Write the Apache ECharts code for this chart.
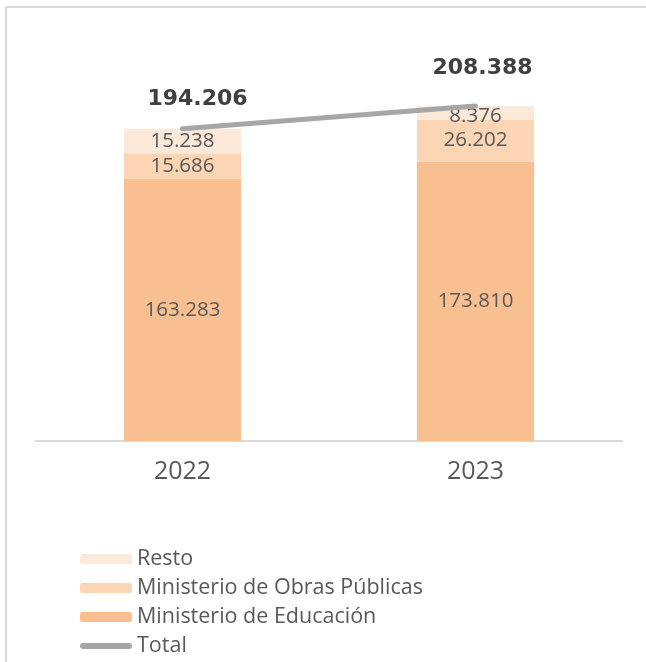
<!DOCTYPE html>
<html>
<head>
<meta charset="utf-8">
<script src="https://cdn.jsdelivr.net/npm/echarts@6/dist/echarts.min.js"></script>
<style>
  html, body { margin: 0; padding: 0; background: #fff; }
  #chart { width: 646px; height: 662px; }
</style>
</head>
<body>
<div id="chart"></div>
<script>
  // datos
  const years = ["2022", "2023"];
  const educacion = [163283, 173810];
  const obras = [15686, 26202];
  const resto = [15238, 8376];
  const total = [194206, 208388];

  const fmt = (v) => v.toLocaleString("de-DE");

  let myChart = echarts.init(document.getElementById("chart"));
  let barLabel = {
    show: true,
    position: "inside",
    color: "#595959",
    fontSize: 20.5,
    fontFamily: "Open Sans",
    formatter: (p) => fmt(p.value),
  };
  // posicion de etiquetas del total (por año)
  let totalLabelPos = [
    { distance: 18, offset: [15, 0] },
    { distance: 27, offset: [7, 0] },
  ];
  let option = {
    animation: false,
    backgroundColor: "#fff",
    graphic: [
      { type: "line", shape: { x1: 6, y1: 7, x2: 646, y2: 7 }, style: { stroke: "#d9d9d9", lineWidth: 2 } },
      { type: "line", shape: { x1: 6, y1: 7, x2: 6, y2: 662 }, style: { stroke: "#d9d9d9", lineWidth: 2 } },
    ],
    grid: { left: 36, right: 24, top: 39, bottom: 221 },
    legend: {
      orient: "vertical",
      left: 75,
      top: 543,
      height: 120,
      itemWidth: 52,
      itemHeight: 10,
      itemGap: 7,
      data: [
        "Resto",
        "Ministerio de Obras Públicas",
        "Ministerio de Educación",
        { name: "Total", icon: "path://M3,0 L49,0 A3,3 0 0 1 49,6 L3,6 A3,3 0 0 1 3,0 Z" },
      ],
      textStyle: { color: "#595959", fontSize: 21.5, lineHeight: 20, fontFamily: "Open Sans" },
    },
    xAxis: {
      type: "category",
      data: years,
      axisLine: { lineStyle: { color: "#d9d9d9", width: 2 } },
      axisTick: { show: false },
      axisLabel: { color: "#595959", fontSize: 25, fontFamily: "Open Sans", margin: 18 },
    },
    yAxis: {
      type: "value",
      min: 0,
      max: 250000,
      show: false,
      splitLine: { show: false },
    },
    series: [
      {
        name: "Ministerio de Educación",
        type: "bar",
        stack: "t",
        barWidth: "40%",
        data: educacion,
        itemStyle: { color: "#F8C090" },
        label: barLabel,
      },
      {
        name: "Ministerio de Obras Públicas",
        type: "bar",
        stack: "t",
        data: obras,
        itemStyle: { color: "#FCD5B4" },
        label: barLabel,
      },
      {
        name: "Resto",
        type: "bar",
        stack: "t",
        // la etiqueta de 2023 baja un poco (segmento pequeño)
        data: resto.map((v, i) => (i === 1 ? { value: v, label: { offset: [0, 4] } } : v)),
        itemStyle: { color: "#FDE9D9" },
        label: barLabel,
      },
      {
        name: "Total",
        type: "line",
        data: total.map((v, i) => ({ value: v, label: totalLabelPos[i] })),
        symbol: "circle",
        symbolSize: 0,
        showSymbol: true,
        lineStyle: { color: "#a6a6a6", width: 5, cap: "round" },
        itemStyle: { color: "#a6a6a6" },
        label: {
          show: true,
          position: "top",
          color: "#404040",
          fontSize: 22,
          fontWeight: "bold",
          fontFamily: "DejaVu Sans",
          formatter: (p) => fmt(p.value),
        },
        z: 5,
      },
    ],
  };
  myChart.setOption(option);
</script>
</body>
</html>
